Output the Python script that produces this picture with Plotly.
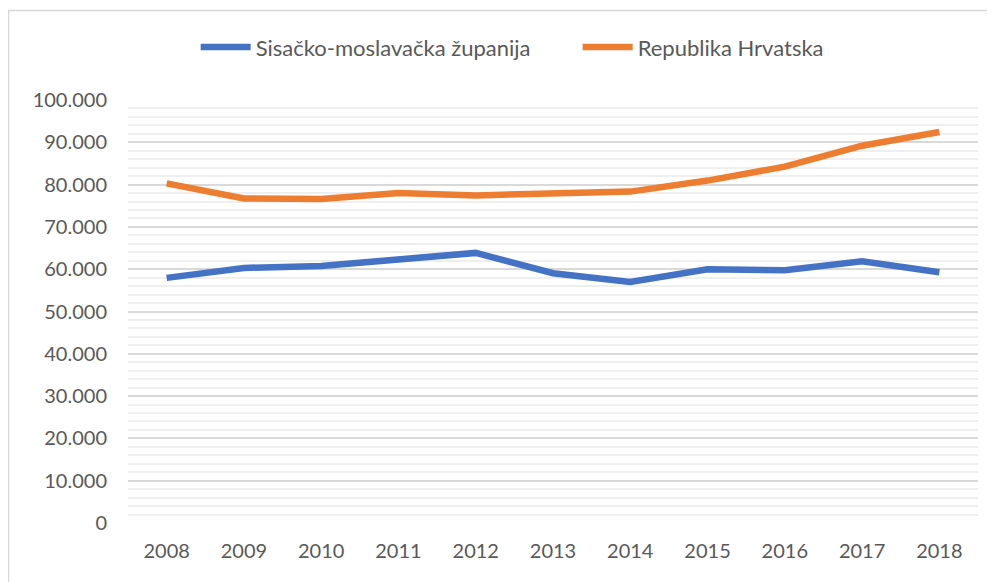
import plotly.graph_objects as go

years = ["2008", "2009", "2010", "2011", "2012", "2013", "2014", "2015", "2016", "2017", "2018"]
sisak = [57950, 60300, 60780, 62500, 63850, 59050, 57000, 60000, 59760, 61890, 59290]
hrvatska = [80300, 76700, 76620, 78040, 77450, 77950, 78340, 80950, 84250, 89200, 92430]
y_ticks = [0, 10000, 20000, 30000, 40000, 50000, 60000, 70000, 80000, 90000, 100000]

fig = go.Figure()
fig.add_trace(go.Scatter(x=years, y=sisak, mode="lines", name="Sisačko-moslavačka županija",
                         line=dict(color="#4472C4", width=6.5)))
fig.add_trace(go.Scatter(x=years, y=hrvatska, mode="lines", name="Republika Hrvatska",
                         line=dict(color="#ED7D31", width=6.5)))

font_family = "Lato, 'Open Sans', sans-serif"
fig.update_layout(
    width=995, height=582,
    margin=dict(l=120, r=25, t=92, b=67),
    paper_bgcolor="white", plot_bgcolor="white",
    separators=",.",
    font=dict(family=font_family, color="#595959", size=20),
    showlegend=True,
    legend=dict(orientation="h", x=0.529, xanchor="center", y=1.125, yanchor="middle",
                bgcolor="rgba(0,0,0,0)",
                font=dict(size=22, color="#595959"), itemwidth=50, tracegroupgap=0,
                entrywidth=317, entrywidthmode="pixels"),
    xaxis=dict(type="category", range=[-0.5, 10.5], showgrid=False, zeroline=False,
               showline=False, ticks="", ticklabelstandoff=14,
               tickfont=dict(size=20, color="#595959")),
    yaxis=dict(range=[0, 100000], tickvals=y_ticks, tickformat=",d",
               showgrid=True, gridcolor="#d9d9d9", gridwidth=1.5,
               zeroline=False, showline=False, ticks="", ticklabelstandoff=20,
               minor=dict(dtick=2000, showgrid=True, gridcolor="#efefef", gridwidth=1.5),
               tickfont=dict(size=20, color="#595959")),
    shapes=[dict(type="rect", xref="paper", yref="paper",
                 x0=-0.1406, x1=1.05, y0=-0.2, y1=1.2116,
                 line=dict(color="#d9d9d9", width=1.5), fillcolor="rgba(0,0,0,0)", layer="below")],
)

fig.write_html("out.html")
